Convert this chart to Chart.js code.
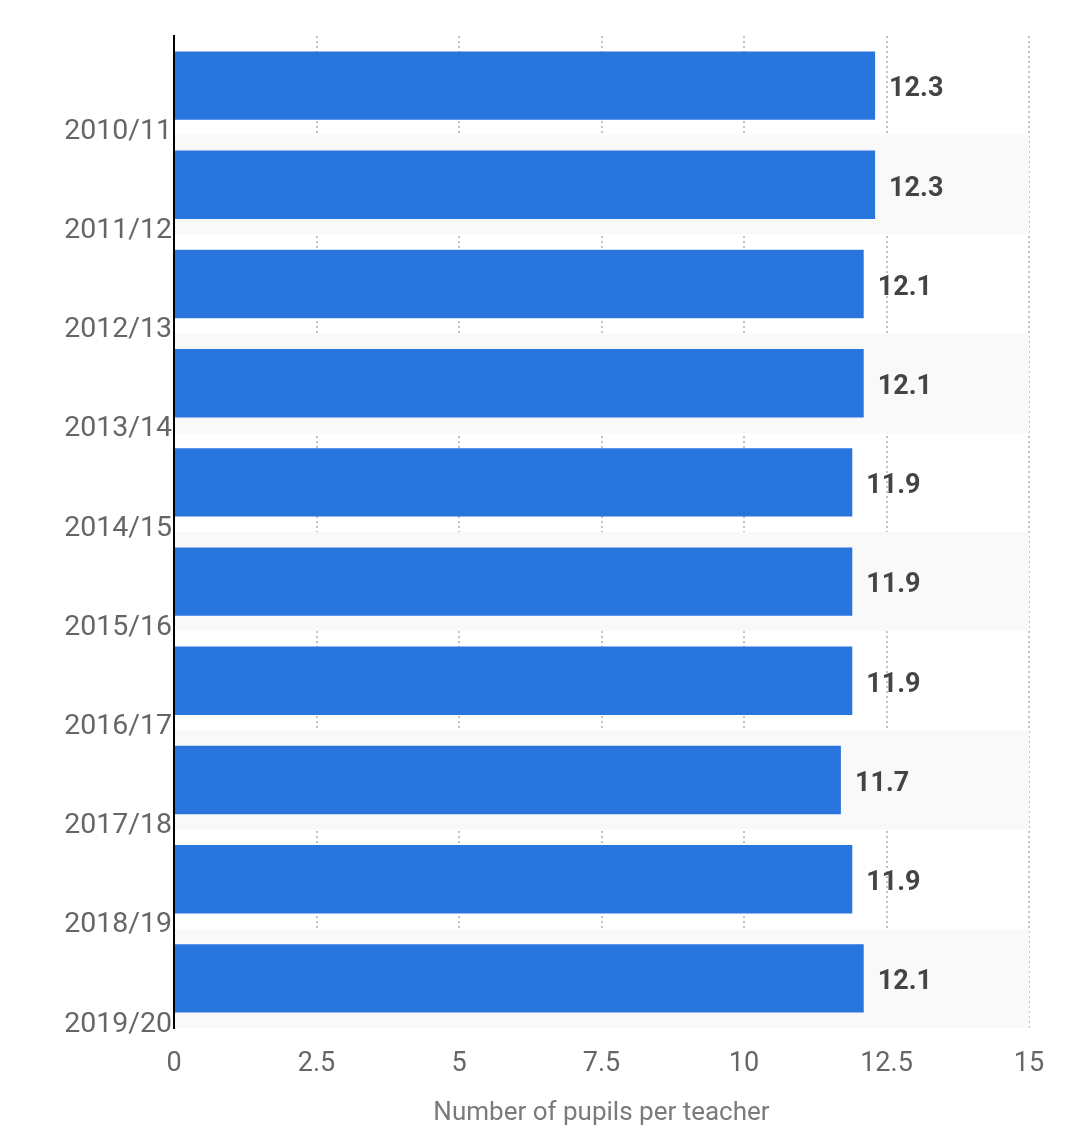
<!DOCTYPE html>
<html lang="en">
<head>
    <meta charset="UTF-8">
    <title>Pupils per teacher</title>
    <script src="https://cdn.jsdelivr.net/npm/chart.js"></script>
    <style>
        body {
            margin: 0;
            background: #ffffff;
        }
        .chart-container {
            width: 1080px;
            height: 1137px;
        }
    </style>
</head>
<body>
<div class="chart-container">
    <canvas id="pupilsChart"></canvas>
</div>

<script>
    // Dados
    const anos = ["2010/11", "2011/12", "2012/13", "2013/14", "2014/15", "2015/16", "2016/17", "2017/18", "2018/19", "2019/20"];
    const alunosPorProfessor = [12.3, 12.3, 12.1, 12.1, 11.9, 11.9, 11.9, 11.7, 11.9, 12.1];
    const tituloEixoX = "Number of pupils per teacher";

    // Faixas alternadas no fundo
    const faixas = {
        id: "faixas",
        beforeDatasetsDraw(chart) {
            const { ctx, chartArea, scales } = chart;
            const y = scales.y;
            const altura = y.height / anos.length;
            ctx.save();
            ctx.fillStyle = "#f9f9f9";
            anos.forEach((ano, i) => {
                if (i % 2 === 1) {
                    ctx.fillRect(chartArea.left, y.getPixelForValue(i) - altura / 2, chartArea.right - chartArea.left, altura);
                }
            });
            ctx.restore();
        }
    };

    // Valores ao lado das barras
    const rotulos = {
        id: "rotulos",
        afterDatasetsDraw(chart) {
            const { ctx } = chart;
            const meta = chart.getDatasetMeta(0);
            ctx.save();
            ctx.font = "bold 27px Roboto";
            ctx.fillStyle = "#444444";
            ctx.textBaseline = "middle";
            ctx.textAlign = "left";
            meta.data.forEach((bar, i) => {
                ctx.fillText(alunosPorProfessor[i].toFixed(1), bar.x + 14, bar.y + 4);
            });
            ctx.restore();
        }
    };

    const ctx = document.getElementById("pupilsChart").getContext("2d");
    new Chart(ctx, {
        type: "bar",
        data: {
            labels: anos,
            datasets: [{
                data: alunosPorProfessor,
                backgroundColor: "#2875dd",
                barPercentage: 0.69,
                categoryPercentage: 1
            }]
        },
        options: {
            indexAxis: "y",
            responsive: true,
            maintainAspectRatio: false,
            animation: false,
            layout: {
                padding: { top: 36, right: 51, left: 0, bottom: 0 }
            },
            plugins: {
                legend: { display: false },
                tooltip: { enabled: false }
            },
            scales: {
                x: {
                    min: 0,
                    max: 15,
                    ticks: {
                        stepSize: 2.5,
                        color: "#666666",
                        font: { family: "Roboto", size: 27 },
                        padding: 20
                    },
                    grid: {
                        color: (c) => c.tick && c.tick.value === 0 ? "rgba(0,0,0,0)" : "#c0c0c0",
                        lineWidth: 2,
                        drawTicks: false
                    },
                    border: { display: false, dash: [2, 3] },
                    title: {
                        display: true,
                        text: tituloEixoX,
                        color: "#7a7a7a",
                        font: { family: "Roboto", size: 26 },
                        padding: { top: 12, bottom: 8 }
                    },
                    afterFit(scale) {
                        scale.height = 109;
                    }
                },
                y: {
                    ticks: {
                        color: "#666666",
                        font: { family: "Roboto", size: 28.5 },
                        padding: 2,
                        labelOffset: 46
                    },
                    grid: { display: false, drawTicks: false },
                    border: { color: "#000000", width: 2, z: 1 },
                    afterFit(scale) {
                        scale.width = 174;
                    }
                }
            }
        },
        plugins: [faixas, rotulos]
    });
</script>
</body>
</html>
